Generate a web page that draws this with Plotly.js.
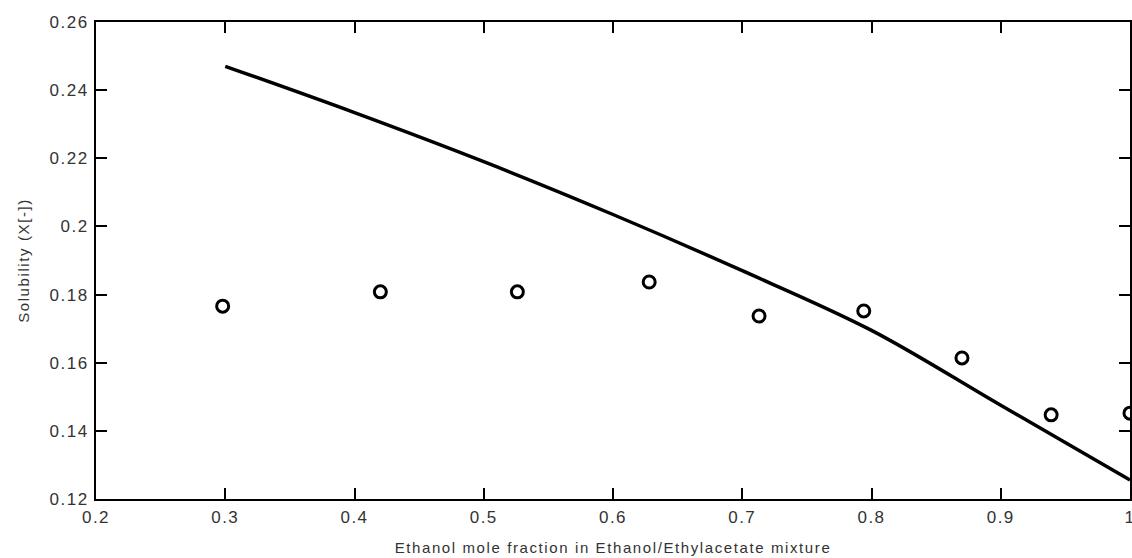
<!DOCTYPE html>
<html>
<head>
<meta charset="utf-8">
<script src="https://cdn.plot.ly/plotly-3.0.1.min.js"></script>
<style>
html,body{margin:0;padding:0;background:#fff;}
#chart{width:1132px;height:558px;}
#chart .xtick text, #chart .ytick text{letter-spacing:1.5px;}
#chart .xtitle, #chart .ytitle{letter-spacing:1.6px;}
</style>
</head>
<body>
<div id="chart"></div>
<script>
// Experimental solubility points
const expX = [0.298, 0.42, 0.526, 0.628, 0.713, 0.794, 0.870, 0.939, 1.0];
const expY = [0.1766, 0.1808, 0.1808, 0.1837, 0.1737, 0.1752, 0.1614, 0.1447, 0.1452];
// Model curve
const modelX = [0.3, 0.4, 0.5, 0.6, 0.7, 0.8, 0.9, 1.0];
const modelY = [0.247, 0.2334, 0.219, 0.2035, 0.187, 0.1695, 0.1475, 0.1256];
// Tick labels
const xTicks = [0.2, 0.3, 0.4, 0.5, 0.6, 0.7, 0.8, 0.9, 1];
const xTickText = ['0.2', '0.3', '0.4', '0.5', '0.6', '0.7', '0.8', '0.9', '1'];
const yTicks = [0.12, 0.14, 0.16, 0.18, 0.2, 0.22, 0.24, 0.26];
const yTickText = ['0.12', '0.14', '0.16', '0.18', '0.2', '0.22', '0.24', '0.26'];

const FONT = 'Liberation Sans, Arial, sans-serif';
const traces = [
  {x: modelX, y: modelY, type: 'scatter', mode: 'lines',
   line: {color: '#000', width: 3.5, shape: 'spline', smoothing: 1}, hoverinfo: 'skip'},
  {x: expX, y: expY, type: 'scatter', mode: 'markers', cliponaxis: false,
   marker: {symbol: 'circle-open', size: 12, color: '#000', line: {color: '#000', width: 3}}}
];
const axisCommon = {
  showgrid: false, zeroline: false, showline: true, linecolor: '#000', linewidth: 2,
  mirror: 'ticks', ticks: 'inside', ticklen: 11, tickwidth: 2, tickcolor: '#000',
  ticklabeloverflow: 'allow',
  tickfont: {family: FONT, size: 17, color: '#333'}
};
const layout = {
  width: 1132, height: 558,
  margin: {l: 96, r: 2, t: 22, b: 59},
  paper_bgcolor: '#fff', plot_bgcolor: '#fff',
  showlegend: false,
  xaxis: Object.assign({}, axisCommon, {
    range: [0.2, 1], tickmode: 'array', tickvals: xTicks, ticktext: xTickText,
    ticklabelstandoff: 2,
    title: {text: 'Ethanol mole fraction in Ethanol/Ethylacetate mixture', standoff: 16,
            font: {family: FONT, size: 15, color: '#333'}}
  }),
  yaxis: Object.assign({}, axisCommon, {
    range: [0.12, 0.26], tickmode: 'array', tickvals: yTicks, ticktext: yTickText,
    ticklabelstandoff: 2,
    title: {text: 'Solubility (X[-])', standoff: 22,
            font: {family: FONT, size: 15, color: '#333'}}
  })
};
Plotly.newPlot('chart', traces, layout, {displayModeBar: false, staticPlot: true});
</script>
</body>
</html>
